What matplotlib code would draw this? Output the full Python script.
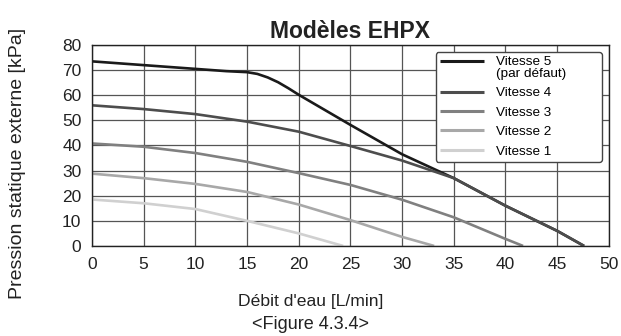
import matplotlib
matplotlib.use("Agg")
import matplotlib.pyplot as plt

x5 = [0, 5, 10, 13, 15, 16, 17, 18, 19, 20, 25, 30, 35, 40, 45, 47.6]
y5 = [73.5, 72, 70.5, 69.6, 69.2, 68.5, 67.1, 65.2, 62.8, 60.2, 48.2, 36.5, 27, 16, 6, 0]
x4 = [0, 5, 10, 15, 20, 25, 30, 35, 40, 45, 47.6]
y4 = [56, 54.5, 52.5, 49.5, 45.5, 39.8, 34, 27, 16, 6, 0]
x3 = [0, 5, 10, 15, 20, 25, 30, 35, 40, 41.7]
y3 = [40.8, 39.5, 37, 33.5, 29, 24.3, 18.4, 11.4, 2.8, 0]
x2 = [0, 5, 10, 15, 20, 25, 30, 33.1]
y2 = [28.8, 27, 24.7, 21.5, 16.5, 10.3, 3.6, 0]
x1 = [0, 5, 10, 15, 20, 24.3]
y1 = [18.5, 17, 14.7, 10, 5, 0]

labels = ["Vitesse 5\n(par défaut)", "Vitesse 4", "Vitesse 3", "Vitesse 2", "Vitesse 1"]
colors = ["#1a1a1a", "#4d4d4d", "#808080", "#a8a8a8", "#d0d0d0"]
xticks = list(range(0, 55, 5))
yticks = list(range(0, 90, 10))

plt.rcParams['font.family'] = ['Liberation Sans', 'DejaVu Sans']
fig = plt.figure(figsize=(6.21, 3.36), dpi=100)
ax = fig.add_axes([0.148, 0.268, 0.8325, 0.598])
series = [(x5, y5), (x4, y4), (x3, y3), (x2, y2), (x1, y1)]
for (xs, ys), lab, c in zip(series, labels, colors):
    ax.plot(xs, ys, color=c, lw=1.9, label=lab, solid_capstyle='butt',
            solid_joinstyle='round')
ax.set_xlim(0, 50)
ax.set_ylim(0, 80)
ax.set_xticks(xticks)
ax.set_yticks(yticks)
ax.grid(True, color='#555555', lw=0.9)
ax.set_axisbelow(True)
ax.tick_params(length=0, labelsize=12.5, colors='#222222')
ax.tick_params(axis='x', pad=8)
ax.tick_params(axis='y', pad=7.5)
for s in ax.spines.values():
    s.set_color('#222222')
    s.set_linewidth(1.0)
ax.set_title("Modèles EHPX", fontsize=16.5, fontweight='bold', pad=5, color='#222222')
ax.set_ylabel("Pression statique externe [kPa]", fontsize=14, color='#222222')
ax.yaxis.set_label_coords(-0.127, 0.41)
fig.text(0.5, 0.088, "Débit d'eau [L/min]", ha='center', fontsize=12.6, color='#222222')
fig.text(0.5, 0.02, "<Figure 4.3.4>", ha='center', fontsize=13, color='#222222')
leg = ax.legend(loc='upper left', bbox_to_anchor=(0.665, 0.40, 0.321, 0.564),
                mode='expand', borderaxespad=0, fontsize=9.7,
                frameon=True, fancybox=True, edgecolor='#444444', framealpha=1,
                handlelength=3.3, labelspacing=0.52, borderpad=0.3, handletextpad=0.9)
leg.get_frame().set_linewidth(1.0)
leg.get_texts()[0].set_linespacing(0.95)
first = leg.get_lines()[0]
first.set_ydata([v + 5.0 for v in first.get_ydata()])
for ln in leg.get_lines():
    ln.set_linewidth(2.2)
fig.savefig("out.png", dpi=100)
